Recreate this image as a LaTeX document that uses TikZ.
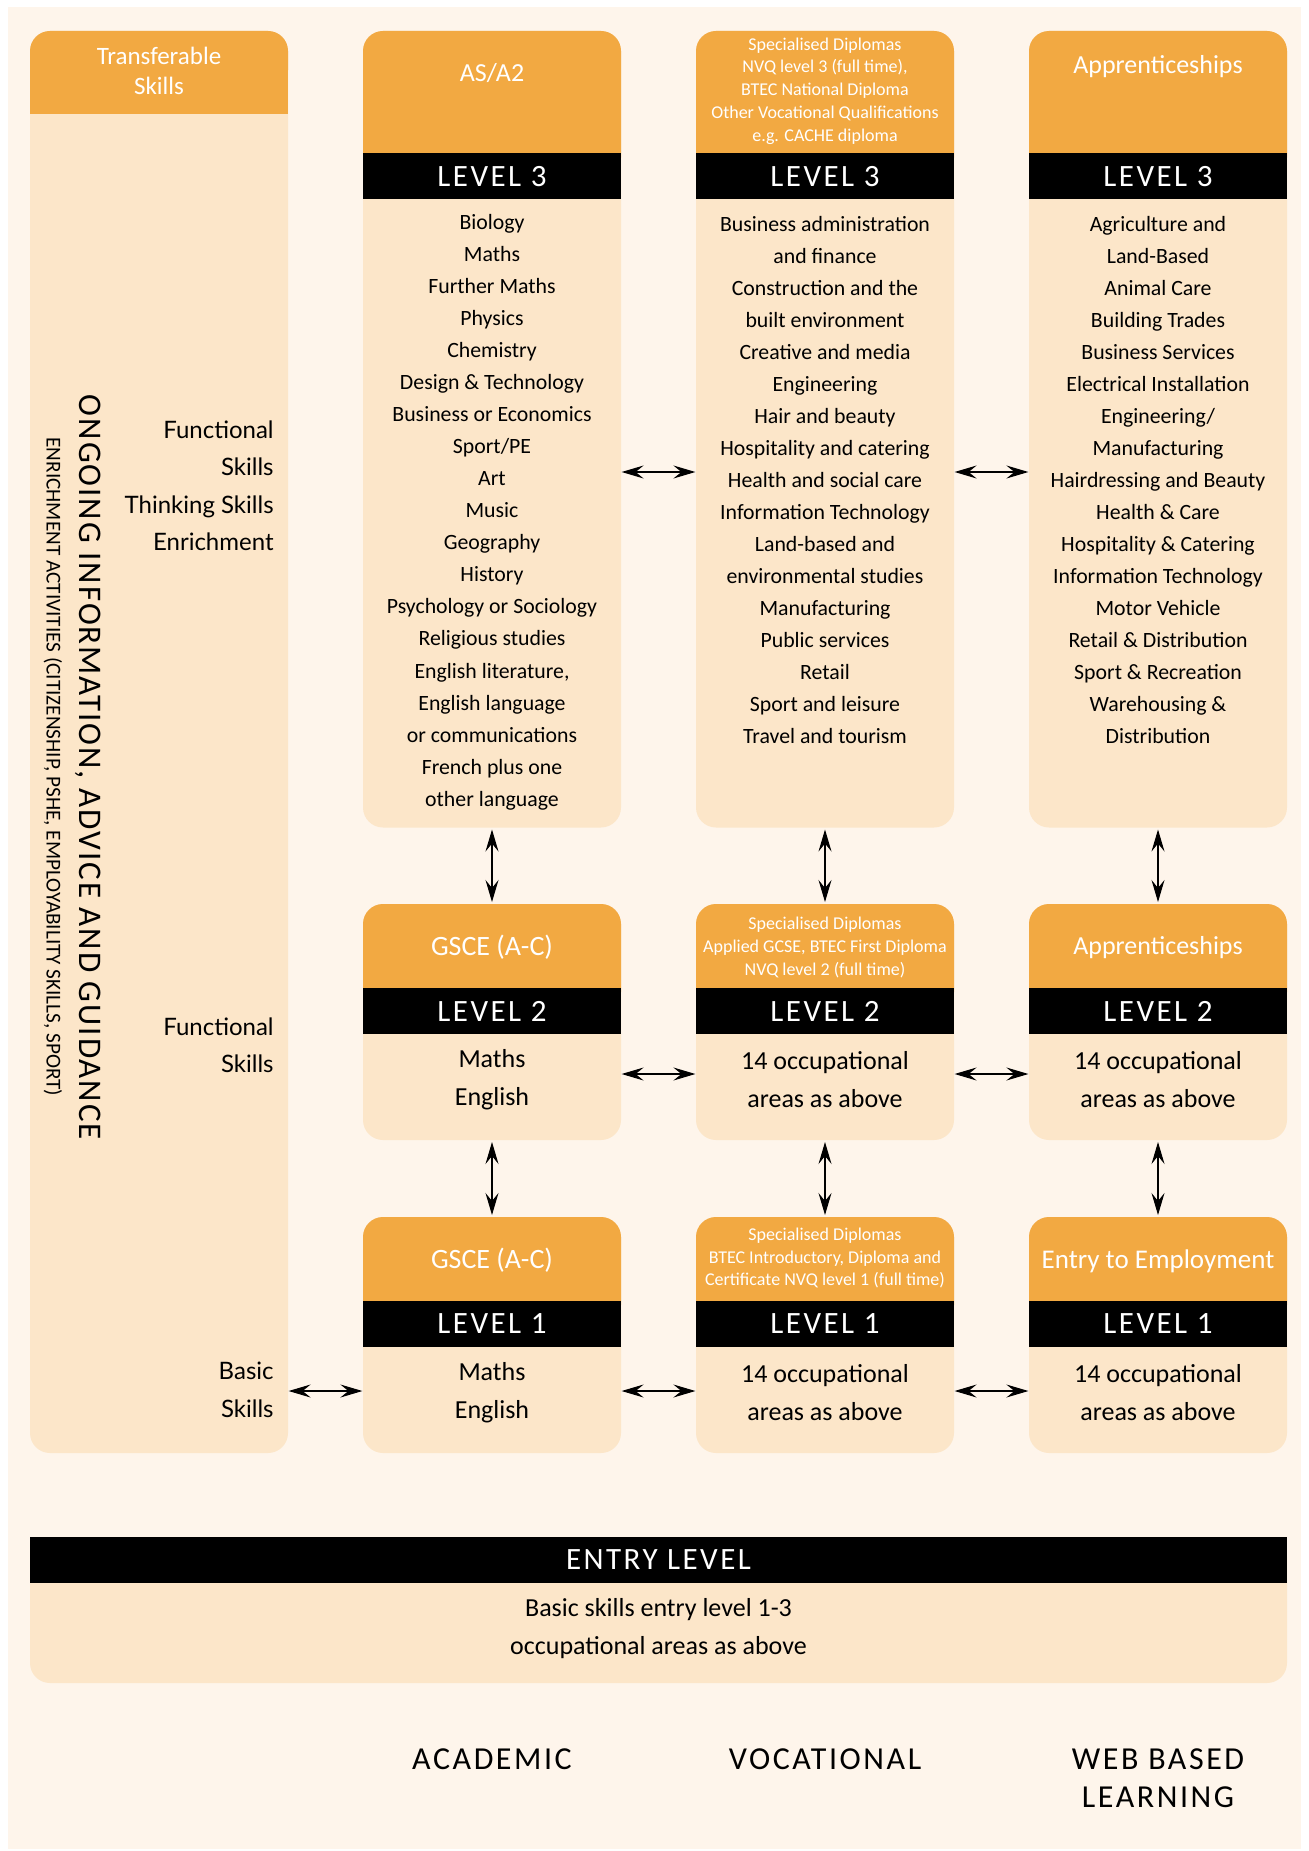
\documentclass[tikz,border=0pt]{standalone}
\usepackage{fontspec}
\setmainfont{Carlito}
\newfontfamily\capsfont[LetterSpace=8]{Carlito}
\newfontfamily\ongoingfont[LetterSpace=6]{Carlito}
\newfontfamily\sidefont{Lato}
\usetikzlibrary{arrows.meta,calc,positioning}
\definecolor{amber}{RGB}{242,169,66}
\definecolor{peach}{RGB}{252,230,201}
\definecolor{paper}{RGB}{254,245,235}

\begin{document}
\begin{tikzpicture}[x=1pt,y=-1pt,
		>={Stealth[length=11pt,width=6.5pt,inset=4pt]},
		card/.style={rectangle,rounded corners=10pt,fill=peach,minimum width=129pt,inner sep=0pt,outer sep=0pt,anchor=north west},
		head/.style={text=white,align=center,font=\fontsize{13}{15}\selectfont},
		small head/.style={text=white,align=center,font=\fontsize{9}{11.4}\selectfont},
		band/.style={text=white,font=\capsfont\fontsize{15.5}{18}\selectfont},
		list/.style={align=center,font=\fontsize{10.9}{16.03}\selectfont},
		big list/.style={align=center,font=\fontsize{13}{19}\selectfont},
		side/.style={align=right,anchor=east,inner sep=0pt,font=\sidefont\fontsize{12}{18.75}\selectfont},
		tag/.style={align=center,font=\capsfont\fontsize{16}{19}\selectfont},
		link/.style={<->,line width=0.55pt,shorten <=0.3pt,shorten >=0.3pt}]
	\useasboundingbox (0,0) rectangle (654,925.5);
	\fill[white] (0,0) rectangle (654,925.5);
	\fill[paper] (4,3.5) rectangle (650.5,924.5);

	% left column
	\node[card,minimum height=711pt] (skills) at (15,15.5) {};
	\fill[amber,rounded corners=10pt] (skills.north west) rectangle (144,45);
	\fill[amber] (15,30) rectangle (144,57.25);
	\node[head,font=\fontsize{12.5}{15.3}\selectfont] (skillshead) at (79.5,35.4) {Transferable\\Skills};
	\node[rotate=-90,font=\ongoingfont\fontsize{16.5}{18}\selectfont] (ongoing) at (44.25,383.7) {ONGOING INFORMATION, ADVICE AND GUIDANCE};
	\node[rotate=-90,font=\fontsize{10.6}{12}\selectfont] (enrich) at (26.5,383.5) {ENRICHMENT ACTIVITIES (CITIZENSHIP, PSHE, EMPLOYABILITY SKILLS, SPORT)};
	\node[side] (skills3) at (137,243) {Functional\\Skills\\Thinking Skills\\Enrichment};
	\node[side,font=\sidefont\fontsize{12}{18.25}\selectfont] (skills2) at (137,522.5) {Functional\\Skills};
	\node[side] (skills1) at (137,695) {Basic\\Skills};

	% the nine level boxes
	\foreach \col/\x in {acad/181.5,voc/348,web/514.5}
		\foreach \lev/\top/\ob/\bot in {3/15.5/76.75/413.75,2/452/494/570,1/608.5/650.5/726.5}{
			\pgfmathsetmacro\h{\bot-\top}
			\node[card,minimum height=\h pt] (\col\lev) at (\x,\top) {};
			\fill[amber,rounded corners=10pt] (\col\lev.north west) rectangle (\x+129,\ob+12);
			\fill (\x,\ob) rectangle (\x+129,\ob+23);
			\node[band] (\col\lev band) at (\x+64.5,\ob+11.5) {LEVEL \lev};
		}

	% headers
	\node[head] (acad3head) at (246,36.5) {AS/A2};
	\node[small head] (voc3head) at (412.5,45.5) {Specialised Diplomas\\NVQ level 3 (full time),\\BTEC National Diploma\\Other Vocational Qualifications\\e.g. CACHE diploma};
	\node[head] (web3head) at (579,33.5) {Apprenticeships};
	\node[head,font=\fontsize{14}{16}\selectfont] (acad2head) at (246,473.5) {GSCE (A-C)};
	\node[small head] (voc2head) at (412.5,473.6) {Specialised Diplomas\\Applied GCSE, BTEC First Diploma\\NVQ level 2 (full time)};
	\node[head] (web2head) at (579,474) {Apprenticeships};
	\node[head,font=\fontsize{14}{16}\selectfont] (acad1head) at (246,630) {GSCE (A-C)};
	\node[small head] (voc1head) at (412.5,629) {Specialised Diplomas\\BTEC Introductory, Diploma and\\Certificate NVQ level 1 (full time)};
	\node[head,font=\fontsize{13.5}{16}\selectfont] (web1head) at (579,630.5) {Entry to Employment};

	% subjects
	\node[list] (acad3text) at (246,256) {Biology\\Maths\\Further Maths\\Physics\\Chemistry\\Design \& Technology\\Business or Economics\\Sport/PE\\Art\\Music\\Geography\\History\\Psychology or Sociology\\Religious studies\\English literature,\\English language\\or communications\\French plus one\\other language};
	\node[list] (voc3text) at (412.5,240) {Business administration\\and finance\\Construction and the\\built environment\\Creative and media\\Engineering\\Hair and beauty\\Hospitality and catering\\Health and social care\\Information Technology\\Land-based and\\environmental studies\\Manufacturing\\Public services\\Retail\\Sport and leisure\\Travel and tourism};
	\node[list] (web3text) at (579,240) {Agriculture and\\Land-Based\\Animal Care\\Building Trades\\Business Services\\Electrical Installation\\Engineering/\\Manufacturing\\Hairdressing and Beauty\\Health \& Care\\Hospitality \& Catering\\Information Technology\\Motor Vehicle\\Retail \& Distribution\\Sport \& Recreation\\Warehousing \&\\Distribution};
	\node[big list] (acad2text) at (246,540) {Maths\\English};
	\node[big list] (voc2text) at (412.5,540) {14 occupational\\areas as above};
	\node[big list] (web2text) at (579,540) {14 occupational\\areas as above};
	\node[big list] (acad1text) at (246,696.5) {Maths\\English};
	\node[big list] (voc1text) at (412.5,696.5) {14 occupational\\areas as above};
	\node[big list] (web1text) at (579,696.5) {14 occupational\\areas as above};

	% entry level
	\node[card,minimum width=628.5pt,minimum height=73pt] (entry) at (15,768.5) {};
	\fill (entry.north west) rectangle (643.5,791.5);
	\node[band] (entryband) at (329.25,780) {ENTRY LEVEL};
	\node[big list] (entrytext) at (329.25,814.5) {Basic skills entry level 1-3\\occupational areas as above};

	% routes
	\node[tag] (academic) at (246,879.5) {ACADEMIC};
	\node[tag] (vocational) at (412.5,879.5) {VOCATIONAL};
	\node[tag] (webbased) at (579,889) {WEB BASED\\LEARNING};

	% arrows
	\coordinate (row3) at (0,236);
	\coordinate (row2) at (0,537);
	\coordinate (row1) at (0,695.5);
	\foreach \a/\b in {acad/voc,voc/web}
		\foreach \r in {3,2,1}
			\draw[link] (\a\r.east |- row\r) -- (\b\r.west |- row\r);
	\draw[link] (skills.east |- row1) -- (acad1.west |- row1);
	\foreach \col in {acad,voc,web}{
		\draw[link,shorten <=1pt,shorten >=1pt] (\col3.south) -- (\col2.north);
		\draw[link,shorten <=1pt,shorten >=1pt] (\col2.south) -- (\col1.north);
	}
\end{tikzpicture}
\end{document}
